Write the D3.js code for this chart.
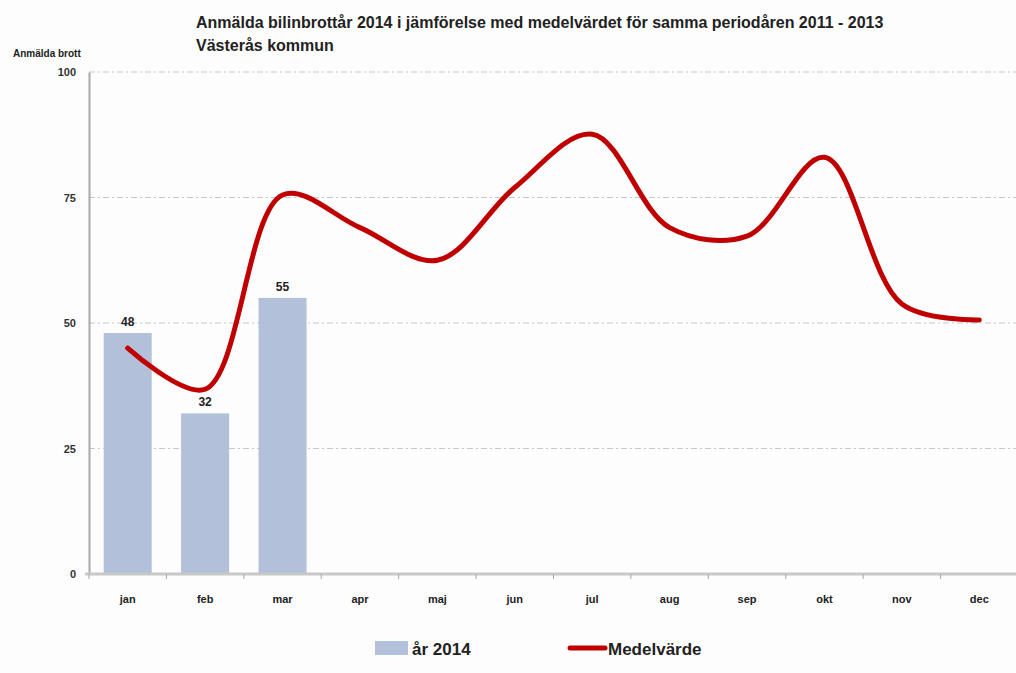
<!DOCTYPE html>
<html>
<head>
<meta charset="utf-8">
<script src="https://cdn.jsdelivr.net/npm/d3@7"></script>
<style>
  body { margin: 0; background: #fdfdfd; }
  text { font-family: "Liberation Sans", Arial, sans-serif; fill: #222; }
</style>
</head>
<body>
<div id="chart"></div>
<script>
// data
var months = ["jan","feb","mar","apr","maj","jun","jul","aug","sep","okt","nov","dec"];
var bars2014 = [48, 32, 55];
var medel = [45, 36.8, 75.5, 69, 62.5, 77, 87.6, 69, 67.3, 83, 53.8, 50.6];
var yTicks = [0, 25, 50, 75, 100];

var W = 1016, H = 673;
var mLeft = 89, mRight = 1018, mTop = 72, mBottom = 574;

var svg = d3.select("#chart").append("svg")
    .attr("width", W).attr("height", H);

svg.append("rect").attr("width", W).attr("height", H).attr("fill", "#fdfdfd");

var x = d3.scaleBand().domain(months).range([mLeft, mRight]).paddingInner(0.38).paddingOuter(0.19);
var xc = function(m) { return x(m) + x.bandwidth() / 2; };
var y = d3.scaleLinear().domain([0, 100]).range([mBottom, mTop]);

// gridlines
svg.append("g").selectAll("line")
    .data(yTicks.filter(function(d) { return d > 0; }))
    .enter().append("line")
    .attr("x1", mLeft).attr("x2", mRight)
    .attr("y1", function(d) { return y(d); }).attr("y2", function(d) { return y(d); })
    .attr("stroke", "#c8c8c8").attr("stroke-width", 1.2)
    .attr("stroke-dasharray", "6,3,2,3");

// bars
svg.append("g").selectAll("rect")
    .data(bars2014)
    .enter().append("rect")
    .attr("x", function(d, i) { return x(months[i]); })
    .attr("y", function(d) { return y(d); })
    .attr("width", x.bandwidth())
    .attr("height", function(d) { return y(0) - y(d); })
    .attr("fill", "#b3c0da");

// bar labels
svg.append("g").selectAll("text")
    .data(bars2014)
    .enter().append("text")
    .attr("x", function(d, i) { return xc(months[i]); })
    .attr("y", function(d) { return y(d) - 7; })
    .attr("text-anchor", "middle")
    .style("font-size", "12px").style("font-weight", "bold")
    .text(function(d) { return d; });

// y axis
var yAxis = svg.append("g")
    .attr("transform", "translate(" + mLeft + ",0)")
    .call(d3.axisLeft(y).tickValues(yTicks).tickSize(0).tickPadding(13));
yAxis.select(".domain").attr("stroke", "#a8a8a8").attr("stroke-width", 2);
yAxis.selectAll("text").style("font-size", "11px").style("font-weight", "bold")
    .attr("font-family", null).style("fill", "#333");

// x axis
var xAxis = svg.append("g")
    .attr("transform", "translate(0," + mBottom + ")");
xAxis.append("line").attr("x1", mLeft - 4).attr("x2", mRight).attr("y1", 0).attr("y2", 0)
    .attr("stroke", "#c8c8c8").attr("stroke-width", 3);
xAxis.selectAll("line.tick")
    .data(d3.range(months.length + 1))
    .enter().append("line").attr("class", "tick")
    .attr("x1", function(i) { return mLeft + i * x.step(); })
    .attr("x2", function(i) { return mLeft + i * x.step(); })
    .attr("y1", 0).attr("y2", 5)
    .attr("stroke", "#a8a8a8").attr("stroke-width", 1);
xAxis.selectAll("text")
    .data(months)
    .enter().append("text")
    .attr("x", function(m) { return xc(m); })
    .attr("y", 29)
    .attr("text-anchor", "middle")
    .style("font-size", "11px").style("font-weight", "bold")
    .text(function(m) { return m; });

// medelvärde line
var line = d3.line()
    .x(function(d, i) { return xc(months[i]); })
    .y(function(d) { return y(d); })
    .curve(d3.curveCatmullRom.alpha(0.5));
svg.append("path")
    .datum(medel)
    .attr("d", line)
    .attr("fill", "none")
    .attr("stroke", "#c00000")
    .attr("stroke-width", 5)
    .attr("stroke-linecap", "round");

// titles
svg.append("text").attr("x", 196).attr("y", 28)
    .style("font-size", "16px").style("font-weight", "bold")
    .text("Anmälda bilinbrottår 2014 i jämförelse med medelvärdet för samma periodåren 2011 - 2013");
svg.append("text").attr("x", 196).attr("y", 51)
    .style("font-size", "16px").style("font-weight", "bold")
    .text("Västerås kommun");
svg.append("text").attr("x", 13).attr("y", 57)
    .style("font-size", "10px").style("font-weight", "bold")
    .text("Anmälda brott");

// legend
var lg = svg.append("g");
lg.append("rect").attr("x", 375).attr("y", 641).attr("width", 33).attr("height", 14).attr("fill", "#b3c0da");
lg.append("text").attr("x", 412).attr("y", 655)
    .style("font-size", "17px").style("font-weight", "bold").text("år 2014");
lg.append("line").attr("x1", 570).attr("x2", 605).attr("y1", 648).attr("y2", 648)
    .attr("stroke", "#c00000").attr("stroke-width", 5).attr("stroke-linecap", "round");
lg.append("text").attr("x", 608).attr("y", 655)
    .style("font-size", "17px").style("font-weight", "bold").text("Medelvärde");
</script>
</body>
</html>
